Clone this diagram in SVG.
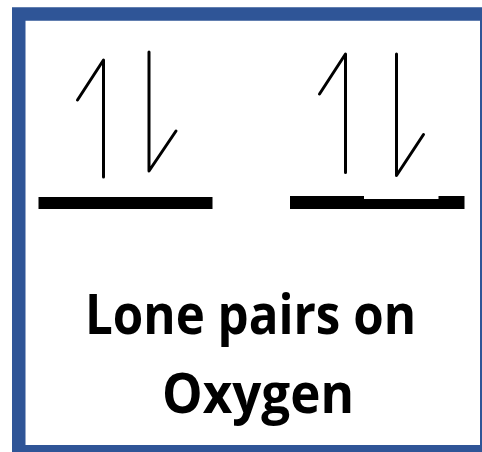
<svg xmlns="http://www.w3.org/2000/svg" width="482" height="452" viewBox="0 0 482 452">
  <style>
    .spin { fill: none; stroke: #000; stroke-width: 3; stroke-linecap: round; stroke-linejoin: round; }
    .bar { fill: #000; }
    .label { font-family: "Open Sans", "Liberation Sans", sans-serif; font-weight: bold; font-size: 56px; fill: #000; }
  </style>
  <rect x="0" y="0" width="482" height="452" fill="#fff"/>
  <g id="frame">
    <rect x="18.75" y="14" width="468" height="437.75" fill="#fff" stroke="#2F5597" stroke-width="13.5"/>
  </g>
  <g id="orbital-left">
    <polyline class="spin" points="103.5,177 103.5,60 77.5,100"/>
    <polyline class="spin" points="149,52 149,171 176,131"/>
    <rect class="bar" x="38.5" y="197" width="174" height="12"/>
  </g>
  <g id="orbital-right">
    <polyline class="spin" points="345.5,172.5 345.5,54 319.5,94"/>
    <polyline class="spin" points="396.5,54 396.5,175.5 423.5,134.5"/>
    <polygon class="bar" points="290,196 364,196 364,199 438.5,199 438.5,196 464.5,196 464.5,209 290,209"/>
  </g>
  <g id="caption">
    <text class="label" x="85" y="334" textLength="331" lengthAdjust="spacingAndGlyphs">Lone pairs on</text>
    <text class="label" x="162" y="413" textLength="192" lengthAdjust="spacingAndGlyphs">Oxygen</text>
  </g>
</svg>
